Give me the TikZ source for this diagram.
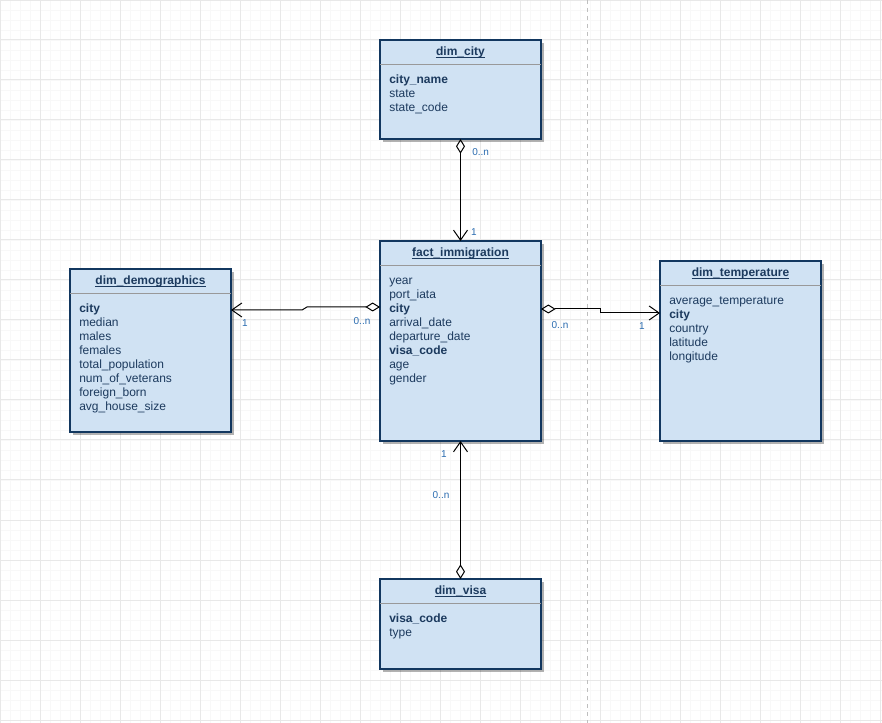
\documentclass[tikz,border=0pt]{standalone}
\usepackage{fontspec}
\setmainfont{Liberation Sans}
\usepackage{tikz}
\usetikzlibrary{arrows.meta, positioning, calc, shadows}
\definecolor{entfill}{HTML}{D0E2F3}
\definecolor{entline}{HTML}{12375F}
\definecolor{enttext}{HTML}{1C3A5E}
\definecolor{cardblue}{HTML}{2B6CB0}
\definecolor{gridmajor}{HTML}{E8E8E8}
\definecolor{gridminor}{HTML}{F8F8F8}

\begin{document}
\begin{tikzpicture}[x=0.75pt, y=-0.75pt,
    entity/.style={draw=entline, fill=entfill, line width=0.9pt, anchor=north west, minimum width=120.75pt, inner sep=0pt, outer sep=0pt,
        drop shadow={shadow xshift=2pt, shadow yshift=-2pt, fill=black, opacity=0.3}},
    enttitle/.style={font=\bfseries\fontsize{9}{10.5}\selectfont, text=enttext, anchor=base, inner sep=0pt},
    titleline/.style={draw=enttext, line width=0.6pt},
    attr/.style={font=\fontsize{9}{10.5}\selectfont, text=enttext, anchor=base west, inner sep=0pt},
    sepline/.style={draw=black!40, line width=0.75pt},
    rel/.style={line width=0.75pt, {Diamond[open, length=11pt, width=6.75pt]}-{Straight Barb[length=7.5pt, width=10.5pt]}},
    card/.style={font=\fontsize{7.5}{9}\selectfont, text=cardblue, inner sep=0pt}]
    \useasboundingbox (0,0) rectangle (882,723);
    % Background grid
    \fill[white] (0,0) rectangle (882,723);
    \draw[gridminor, line width=0.5pt, step=7.5pt] (0,723) grid (882,0);
    \draw[gridmajor, line width=0.75pt, step=30pt] (0,723) grid (882,0);
    \coordinate (divtop) at (587,0);
    \coordinate (divbot) at (587,723);
    \draw[black!25, line width=0.6pt, dash pattern=on 3pt off 3pt] (divtop) -- (divbot);

    % dim_city
    \node[entity, minimum height=74.25pt] (city) at (380,40) {};
    \node[enttitle] (city-t) at ($(city.north)+(0,15.5)$) {dim\_city};
    \draw[titleline] ($(city-t.base west)+(0,2)$) -- ($(city-t.base east)+(0,2)$);
    \draw[sepline] ($(city.north west)+(0,24.5)$) -- ($(city.north east)+(0,24.5)$);
    \foreach \a [count=\i] in {\textbf{city\_name}, state, state\_code}
        \node[attr] (city-\i) at ($(city.north west)+(9,29.5+14*\i)$) {\a};

    % fact_immigration
    \node[entity, minimum height=150pt] (fact) at (380,241) {};
    \node[enttitle] (fact-t) at ($(fact.north)+(0,15.5)$) {fact\_immigration};
    \draw[titleline] ($(fact-t.base west)+(0,2)$) -- ($(fact-t.base east)+(0,2)$);
    \draw[sepline] ($(fact.north west)+(0,24.5)$) -- ($(fact.north east)+(0,24.5)$);
    \foreach \a [count=\i] in {year, port\_iata, \textbf{city}, arrival\_date, departure\_date, \textbf{visa\_code}, age, gender}
        \node[attr] (fact-\i) at ($(fact.north west)+(9,29.5+14*\i)$) {\a};

    % dim_demographics
    \node[entity, minimum height=122.25pt] (demo) at (70,269) {};
    \node[enttitle] (demo-t) at ($(demo.north)+(0,15.5)$) {dim\_demographics};
    \draw[titleline] ($(demo-t.base west)+(0,2)$) -- ($(demo-t.base east)+(0,2)$);
    \draw[sepline] ($(demo.north west)+(0,24.5)$) -- ($(demo.north east)+(0,24.5)$);
    \foreach \a [count=\i] in {\textbf{city}, median, males, females, total\_population, num\_of\_veterans, foreign\_born, avg\_house\_size}
        \node[attr] (demo-\i) at ($(demo.north west)+(9,29.5+14*\i)$) {\a};

    % dim_temperature
    \node[entity, minimum height=135pt] (temp) at (660,261) {};
    \node[enttitle] (temp-t) at ($(temp.north)+(0,15.5)$) {dim\_temperature};
    \draw[titleline] ($(temp-t.base west)+(0,2)$) -- ($(temp-t.base east)+(0,2)$);
    \draw[sepline] ($(temp.north west)+(0,24.5)$) -- ($(temp.north east)+(0,24.5)$);
    \foreach \a [count=\i] in {average\_temperature, \textbf{city}, country, latitude, longitude}
        \node[attr] (temp-\i) at ($(temp.north west)+(9,29.5+14*\i)$) {\a};

    % dim_visa
    \node[entity, minimum height=67.5pt] (visa) at (380,579) {};
    \node[enttitle] (visa-t) at ($(visa.north)+(0,15.5)$) {dim\_visa};
    \draw[titleline] ($(visa-t.base west)+(0,2)$) -- ($(visa-t.base east)+(0,2)$);
    \draw[sepline] ($(visa.north west)+(0,24.5)$) -- ($(visa.north east)+(0,24.5)$);
    \foreach \a [count=\i] in {\textbf{visa\_code}, type}
        \node[attr] (visa-\i) at ($(visa.north west)+(9,29.5+14*\i)$) {\a};

    % Relations
    \draw[rel] (city.south) -- (fact.north);
    \draw[rel] ($(fact.north west)+(0,66)$) -- ++(-73,0) -- ++(-5,3) -- ($(demo.north east)+(0,41)$);
    \draw[rel] ($(fact.north east)+(0,68)$) -- ++(59,0) -- ++(0,4) -- ($(temp.north west)+(0,52)$);
    \draw[rel] (visa.north) -- (fact.south);

    % Cardinalities
    \node[card, anchor=west] (c-city-n) at (472,152) {0..n};
    \node[card] (c-city-1) at (474,232) {1};
    \node[card] (c-demo-n) at (362,321) {0..n};
    \node[card] (c-demo-1) at (245,323) {1};
    \node[card] (c-temp-n) at (560,325) {0..n};
    \node[card] (c-temp-1) at (642,326) {1};
    \node[card] (c-visa-1) at (444,454) {1};
    \node[card] (c-visa-n) at (441,495) {0..n};
\end{tikzpicture}
\end{document}
